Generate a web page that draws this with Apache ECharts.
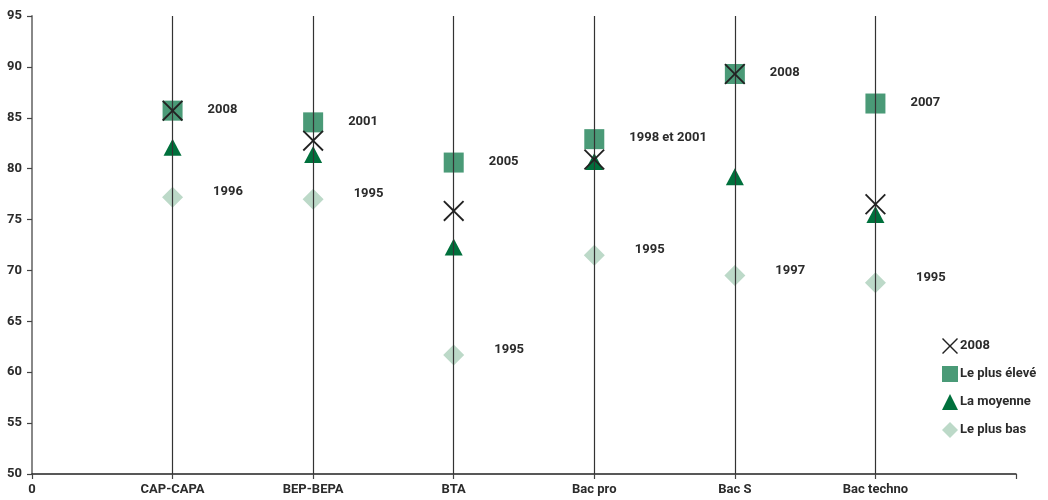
<!DOCTYPE html>
<html>
<head>
<meta charset="utf-8">
<script src="https://cdn.jsdelivr.net/npm/echarts@6/dist/echarts.min.js"></script>
<style>
html,body{margin:0;padding:0;background:#fff;}
#c{width:1048px;height:500px;}
</style>
</head>
<body>
<div id="c"></div>
<script>
const categories = ['CAP-CAPA', 'BEP-BEPA', 'BTA', 'Bac pro', 'Bac S', 'Bac techno'];
const val2008 = [85.7, 82.75, 75.85, 80.9, 89.3, 76.5];
const valHigh = [85.7, 84.55, 80.6, 82.9, 89.3, 86.4];
const valMean = [82.1, 81.4, 72.3, 80.7, 79.2, 75.5];
const valLow = [77.2, 77.0, 61.7, 71.5, 69.5, 68.8];
const yearHigh = ['2008', '2001', '2005', '1998 et 2001', '2008', '2007'];
const yearLow = ['1996', '1995', '1995', '1995', '1997', '1995'];
const yTicks = { min: 50, max: 95, step: 5 };

const FONT = 'Roboto, "Liberation Sans", sans-serif';
const TXT = '#2b2b2b';
const X_PATH = 'path://M0,1.5L1.5,0L12,10.5L22.5,0L24,1.5L13.5,12L24,22.5L22.5,24L12,13.5L1.5,24L0,22.5L10.5,12Z';

const pts = arr => arr.map((v, i) => [i + 1, v]);

const chart = echarts.init(document.getElementById('c'), null, { renderer: 'canvas' });
chart.setOption({
  animation: false,
  backgroundColor: '#fff',
  textStyle: { fontFamily: FONT },
  grid: { left: 32, right: 32, top: 16, bottom: 26, containLabel: false },
  xAxis: {
    type: 'value', min: 0, max: categories.length + 1, interval: 1,
    axisLine: { show: true, lineStyle: { color: '#222', width: 1.5 } },
    axisTick: { show: true, length: 5, lineStyle: { color: '#444', width: 1.2 } },
    splitLine: { show: false },
    axisLabel: {
      color: TXT, fontFamily: FONT, fontSize: 13, fontWeight: 'bold', margin: 9,
      formatter: v => v === 0 ? '0' : (categories[v - 1] || '')
    }
  },
  yAxis: {
    type: 'value', min: yTicks.min, max: yTicks.max, interval: yTicks.step,
    axisLine: { show: true, lineStyle: { color: '#888', width: 2 } },
    axisTick: { show: true, length: 5, lineStyle: { color: '#444', width: 1.2 } },
    splitLine: { show: false },
    axisLabel: { color: TXT, fontFamily: FONT, fontSize: 13, fontWeight: 'bold', margin: 10 }
  },
  legend: {
    orient: 'vertical', left: 937, top: 333, itemGap: 12,
    itemWidth: 16, itemHeight: 16,
    textStyle: { color: TXT, fontFamily: FONT, fontSize: 13, fontWeight: 'bold', padding: [0, 0, 0, -3] },
    data: ['2008', 'Le plus élevé', 'La moyenne', 'Le plus bas']
  },
  series: [
    {
      name: 'Le plus bas', type: 'scatter', z: 2,
      symbol: 'diamond', symbolSize: 21,
      itemStyle: { color: '#bcd9c8', opacity: 1 },
      label: {
        show: true, position: 'right', distance: 30, offset: [0, -5],
        color: TXT, fontFamily: FONT, fontSize: 13, fontWeight: 'bold',
        formatter: p => yearLow[p.dataIndex]
      },
      data: pts(valLow)
    },
    {
      name: 'Le plus élevé', type: 'scatter', z: 3,
      symbol: 'rect', symbolSize: 20,
      itemStyle: { color: '#4a9a77', opacity: 1 },
      label: {
        show: true, position: 'right', distance: 25, offset: [0, -1],
        color: TXT, fontFamily: FONT, fontSize: 13, fontWeight: 'bold',
        formatter: p => yearHigh[p.dataIndex]
      },
      data: pts(valHigh)
    },
    {
      name: 'La moyenne', type: 'scatter', z: 4,
      symbol: 'triangle', symbolSize: [18, 17],
      itemStyle: { color: '#00703c', opacity: 1 },
      data: pts(valMean)
    },
    {
      name: '2008', type: 'scatter', z: 6,
      symbol: X_PATH, symbolSize: 21,
      itemStyle: { color: '#222', opacity: 1 },
      data: pts(val2008),
      markLine: {
        silent: true, symbol: 'none', z: 5,
        label: { show: false },
        lineStyle: { color: '#333', width: 1.2, type: 'solid' },
        data: categories.map((c, i) => ({ xAxis: i + 1 }))
      }
    }
  ]
});
</script>
</body>
</html>
